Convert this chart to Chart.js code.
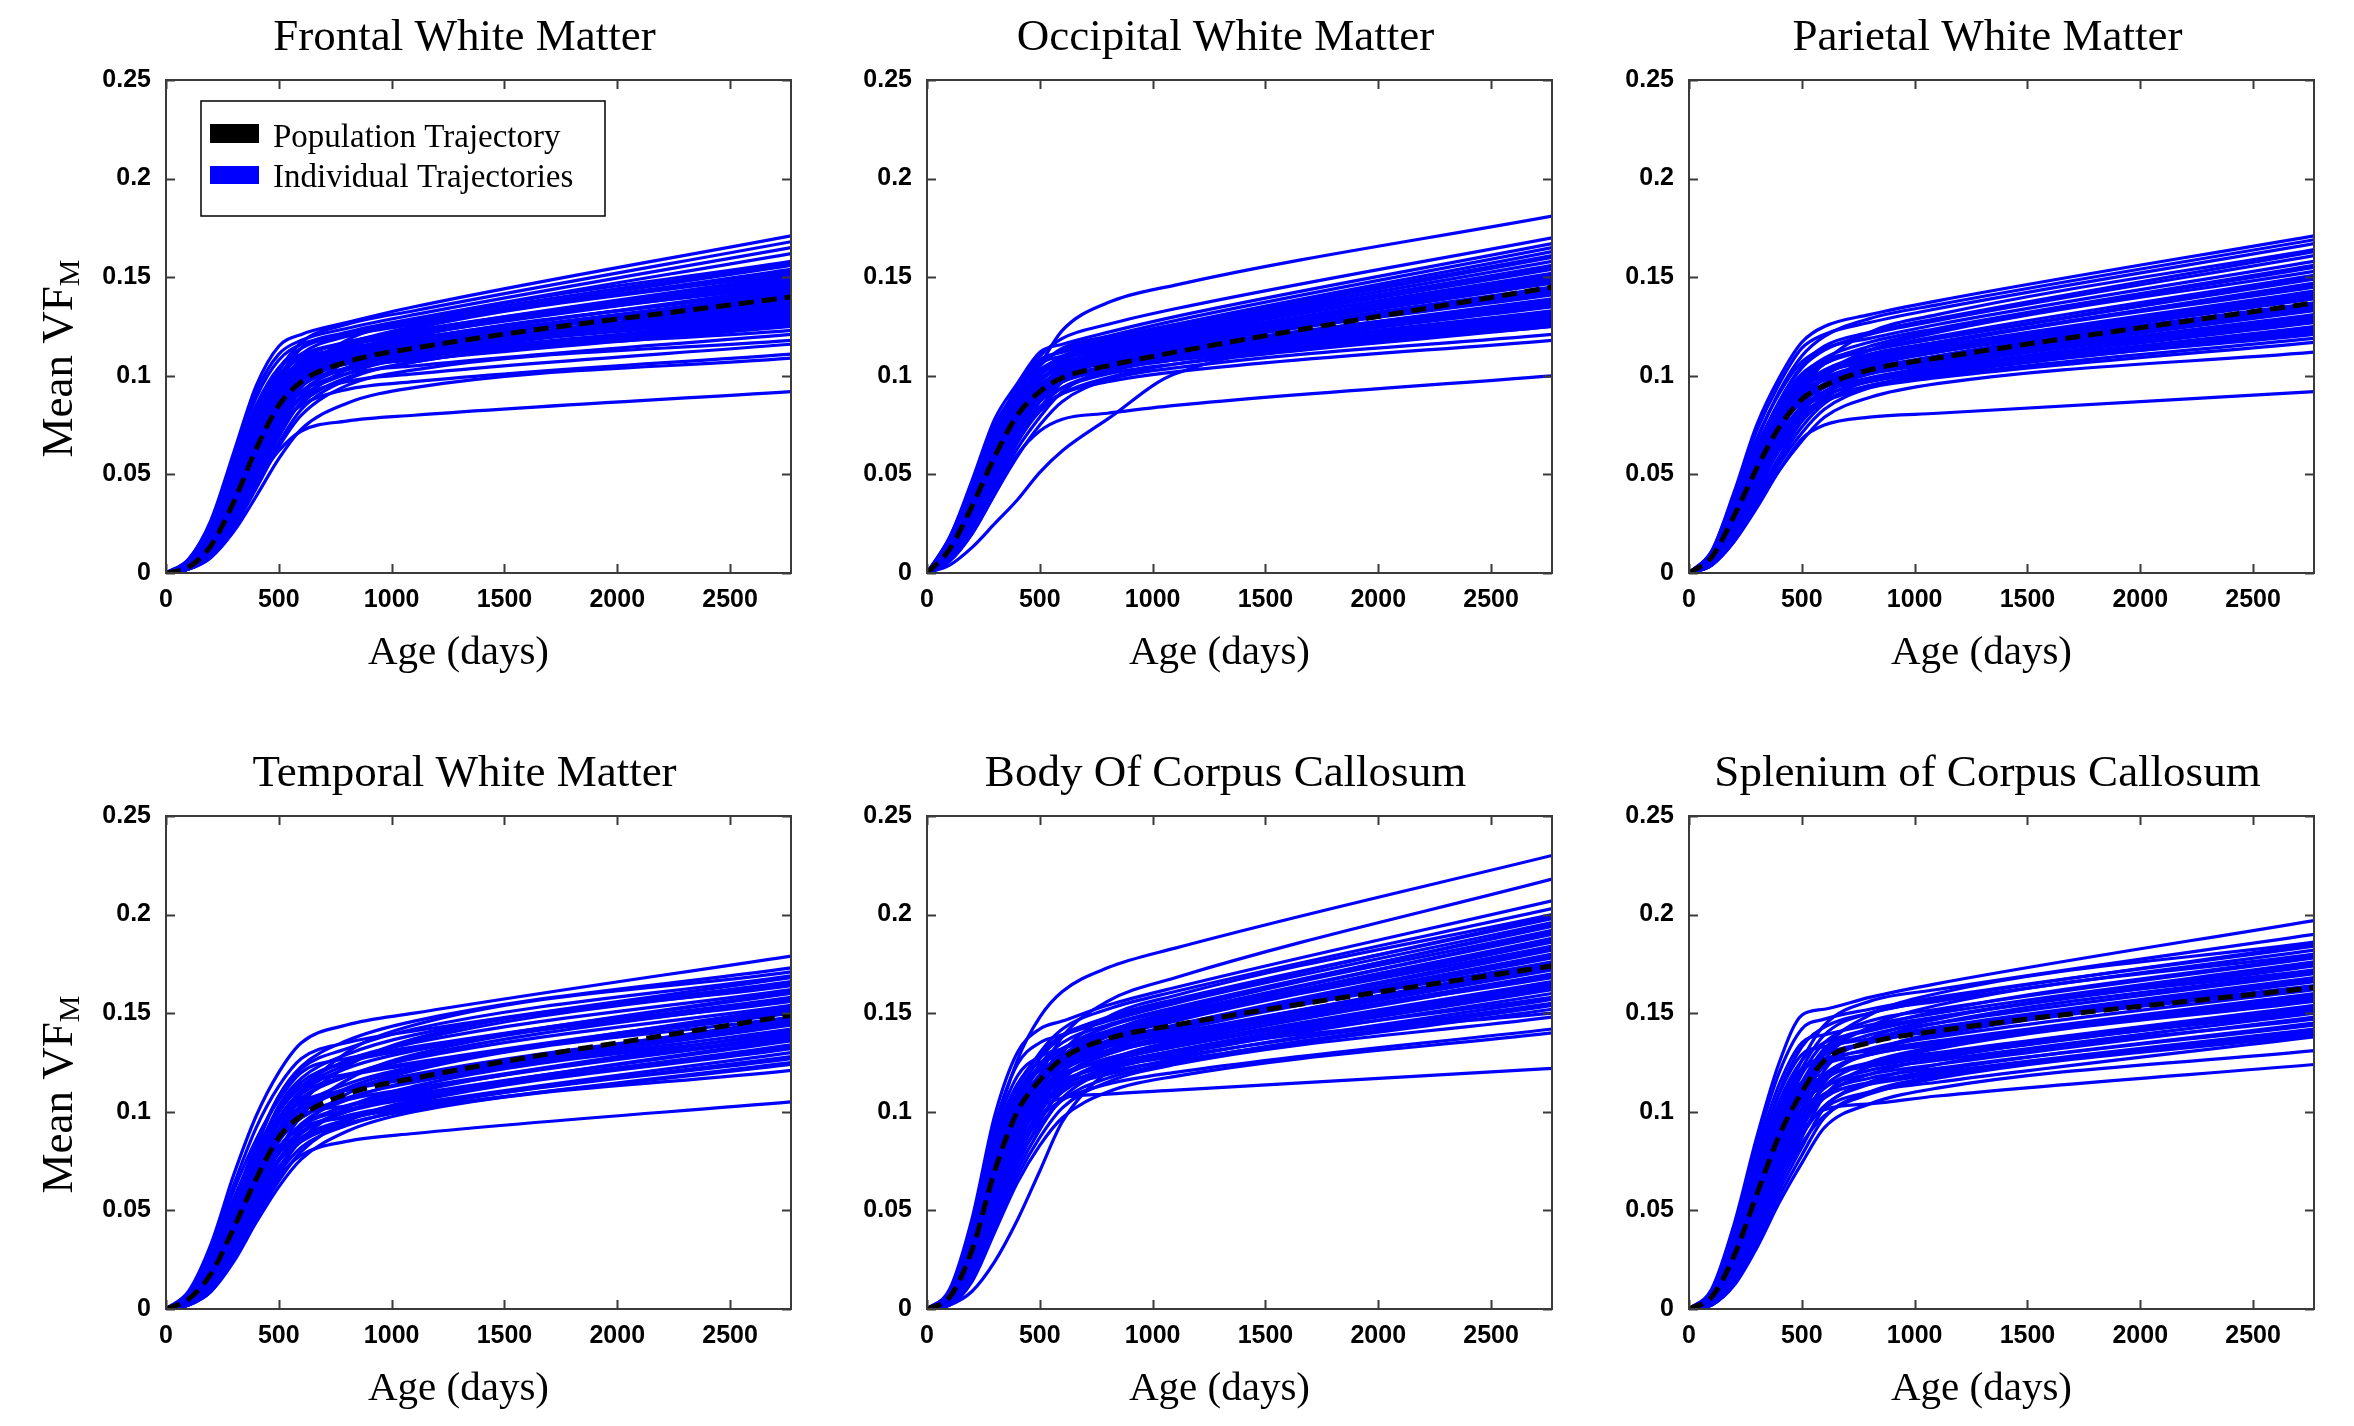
<!DOCTYPE html>
<html>
<head>
<meta charset="utf-8">
<script src="https://cdn.jsdelivr.net/npm/chart.js@4.4.0/dist/chart.umd.min.js"></script>
<style>
  body { margin: 0; background: #fff; width: 2354px; height: 1426px; position: relative; overflow: hidden; }
  canvas { position: absolute; }
</style>
</head>
<body>
<canvas id="frontal"></canvas>
<canvas id="occipital"></canvas>
<canvas id="parietal"></canvas>
<canvas id="temporal"></canvas>
<canvas id="body"></canvas>
<canvas id="splenium"></canvas>
<script>
// shared x samples (age in days) and tick labels
var ages = [0, 100, 200, 300, 400, 500, 600, 800, 1100, 2770];
var xTickValues = [0, 500, 1000, 1500, 2000, 2500];
var yTickValues = [0, 0.05, 0.1, 0.15, 0.2, 0.25];
var legendLabels = ['Population Trajectory', 'Individual Trajectories'];

// FRONTAL
var frontalPopulation = [0, .003, .014, .036, .063, .085, .097, .107, .114, .140];
var frontalIndividual = [
  [0, .007, .027, .061, .095, .115, .121, .127, .135, .171],
  [0, .004, .017, .044, .076, .102, .117, .126, .133, .168],
  [0, .007, .026, .059, .092, .111, .118, .124, .131, .165],
  [0, .004, .017, .043, .074, .099, .114, .122, .129, .162],
  [0, .003, .010, .028, .054, .079, .100, .118, .128, .158],
  [0, .005, .021, .050, .081, .104, .114, .121, .128, .157],
  [0, .006, .025, .057, .089, .108, .116, .121, .127, .156],
  [0, .004, .016, .042, .072, .097, .111, .120, .126, .154],
  [0, .003, .013, .035, .062, .088, .104, .116, .125, .153],
  [0, .002, .010, .027, .052, .077, .097, .114, .124, .152],
  [0, .005, .020, .048, .079, .100, .110, .117, .123, .151],
  [0, .004, .016, .041, .070, .095, .108, .117, .123, .150],
  [0, .006, .024, .055, .085, .104, .111, .116, .122, .149],
  [0, .003, .012, .032, .059, .085, .101, .112, .121, .148],
  [0, .004, .016, .040, .069, .093, .106, .115, .121, .147],
  [0, .002, .010, .026, .050, .074, .094, .110, .120, .146],
  [0, .005, .019, .046, .076, .097, .107, .114, .119, .145],
  [0, .004, .015, .039, .068, .092, .105, .113, .119, .144],
  [0, .003, .012, .031, .057, .082, .097, .109, .118, .143],
  [0, .006, .024, .053, .083, .100, .109, .113, .118, .142],
  [0, .004, .015, .039, .067, .090, .103, .112, .117, .141],
  [0, .004, .018, .044, .073, .094, .104, .111, .116, .140],
  [0, .002, .009, .026, .049, .072, .090, .107, .116, .139],
  [0, .003, .011, .030, .055, .080, .095, .107, .115, .138],
  [0, .003, .015, .038, .066, .089, .101, .110, .115, .137],
  [0, .004, .017, .042, .070, .091, .101, .108, .114, .136],
  [0, .006, .023, .051, .080, .097, .105, .109, .114, .135],
  [0, .003, .011, .029, .053, .077, .092, .104, .112, .134],
  [0, .003, .015, .037, .064, .087, .099, .108, .113, .133],
  [0, .004, .017, .041, .068, .089, .099, .106, .112, .132],
  [0, .002, .009, .025, .047, .069, .087, .103, .112, .131],
  [0, .003, .011, .028, .051, .074, .089, .101, .110, .130],
  [0, .003, .014, .037, .063, .085, .098, .107, .111, .129],
  [0, .004, .016, .039, .065, .086, .096, .103, .109, .128],
  [0, .006, .022, .050, .077, .094, .102, .106, .110, .127],
  [0, .003, .010, .027, .049, .071, .086, .099, .107, .126],
  [0, .003, .014, .036, .062, .083, .095, .104, .108, .125],
  [0, .002, .009, .024, .045, .066, .083, .098, .107, .123],
  [0, .003, .014, .035, .060, .081, .092, .101, .105, .121],
  [0, .002, .008, .023, .043, .064, .080, .095, .103, .118],
  [0, .003, .013, .033, .058, .078, .089, .097, .101, .116],
  [0, .003, .013, .032, .055, .075, .085, .093, .097, .111],
  [0, .002, .008, .021, .039, .058, .073, .086, .094, .109],
  [0, .004, .014, .028, .046, .062, .072, .077, .080, .092]
];

// OCCIPITAL
var occipitalPopulation = [0, .012, .034, .059, .080, .092, .099, .105, .112, .145];
var occipitalIndividual = [
  [0, .009, .028, .055, .083, .105, .123, .137, .146, .181],
  [0, .015, .040, .071, .095, .110, .119, .126, .134, .170],
  [0, .018, .047, .078, .096, .112, .116, .122, .130, .167],
  [0, .014, .038, .068, .091, .105, .114, .120, .128, .165],
  [0, .008, .024, .048, .072, .091, .106, .118, .126, .163],
  [0, .016, .042, .072, .092, .106, .113, .119, .126, .161],
  [0, .018, .045, .075, .093, .108, .112, .118, .125, .160],
  [0, .014, .037, .066, .088, .102, .110, .117, .124, .158],
  [0, .017, .044, .074, .091, .106, .110, .116, .123, .156],
  [0, .011, .031, .058, .081, .097, .107, .116, .123, .155],
  [0, .013, .037, .065, .087, .100, .109, .115, .122, .154],
  [0, .007, .023, .046, .069, .087, .102, .114, .121, .152],
  [0, .015, .040, .069, .088, .101, .108, .114, .121, .151],
  [0, .017, .043, .072, .089, .103, .109, .114, .120, .150],
  [0, .013, .036, .063, .084, .098, .106, .113, .119, .149],
  [0, .010, .029, .055, .077, .093, .103, .112, .119, .148],
  [0, .013, .035, .063, .084, .097, .105, .112, .118, .147],
  [0, .016, .042, .070, .087, .101, .106, .111, .117, .145],
  [0, .014, .039, .067, .085, .098, .105, .111, .117, .144],
  [0, .013, .035, .061, .082, .095, .103, .110, .116, .143],
  [0, .010, .028, .053, .074, .090, .100, .108, .115, .142],
  [0, .007, .022, .044, .066, .083, .097, .108, .115, .141],
  [0, .016, .041, .068, .084, .098, .104, .109, .114, .139],
  [0, .014, .038, .065, .082, .095, .102, .108, .114, .138],
  [0, .012, .034, .060, .080, .093, .101, .108, .113, .137],
  [0, .009, .027, .051, .071, .087, .097, .105, .112, .136],
  [0, .012, .034, .059, .080, .092, .100, .107, .112, .135],
  [0, .016, .040, .067, .082, .095, .102, .106, .111, .133],
  [0, .013, .036, .062, .080, .092, .099, .105, .111, .132],
  [0, .007, .021, .042, .063, .079, .092, .103, .110, .131],
  [0, .009, .026, .050, .069, .084, .094, .102, .109, .130],
  [0, .012, .033, .058, .077, .089, .097, .104, .109, .129],
  [0, .013, .035, .060, .078, .090, .097, .103, .108, .128],
  [0, .015, .039, .065, .080, .093, .100, .104, .108, .127],
  [0, .009, .025, .048, .067, .082, .091, .099, .106, .126],
  [0, .012, .032, .056, .075, .087, .094, .101, .106, .125],
  [0, .006, .020, .040, .059, .075, .087, .098, .104, .121],
  [0, .011, .031, .054, .072, .084, .091, .097, .102, .118],
  [0, .004, .013, .025, .037, .051, .062, .078, .101, .125],
  [0, .006, .020, .040, .060, .072, .078, .081, .085, .100]
];

// PARIETAL
var parietalPopulation = [0, .008, .029, .053, .074, .088, .095, .103, .109, .137];
var parietalIndividual = [
  [0, .011, .041, .075, .099, .117, .125, .131, .138, .171],
  [0, .010, .037, .067, .092, .110, .120, .129, .136, .169],
  [0, .011, .040, .072, .096, .114, .121, .127, .134, .167],
  [0, .005, .022, .046, .071, .092, .107, .122, .131, .164],
  [0, .009, .034, .063, .087, .105, .115, .122, .129, .163],
  [0, .009, .035, .063, .087, .104, .113, .121, .128, .161],
  [0, .010, .038, .068, .091, .107, .114, .119, .126, .158],
  [0, .009, .033, .061, .084, .100, .109, .117, .124, .156],
  [0, .007, .028, .053, .077, .095, .106, .115, .123, .155],
  [0, .005, .021, .043, .066, .085, .100, .113, .122, .153],
  [0, .008, .032, .059, .082, .097, .106, .113, .120, .151],
  [0, .009, .033, .060, .083, .099, .107, .113, .119, .150],
  [0, .010, .036, .064, .086, .101, .108, .113, .119, .149],
  [0, .008, .032, .057, .080, .095, .103, .111, .117, .147],
  [0, .006, .026, .050, .072, .089, .100, .110, .117, .146],
  [0, .005, .020, .041, .063, .081, .095, .108, .116, .145],
  [0, .008, .031, .056, .078, .093, .101, .109, .115, .143],
  [0, .008, .031, .057, .079, .094, .102, .108, .114, .142],
  [0, .009, .034, .061, .081, .096, .102, .107, .113, .141],
  [0, .006, .025, .047, .069, .085, .096, .105, .112, .140],
  [0, .008, .030, .055, .076, .091, .099, .106, .112, .139],
  [0, .004, .019, .039, .059, .077, .090, .102, .110, .137],
  [0, .008, .030, .055, .076, .090, .098, .104, .110, .136],
  [0, .008, .029, .053, .074, .088, .096, .103, .109, .135],
  [0, .006, .024, .045, .066, .082, .092, .101, .108, .134],
  [0, .009, .032, .058, .078, .092, .098, .103, .108, .133],
  [0, .007, .029, .052, .073, .087, .094, .102, .107, .131],
  [0, .008, .029, .053, .073, .087, .095, .101, .106, .130],
  [0, .004, .018, .037, .057, .074, .086, .098, .105, .129],
  [0, .005, .023, .044, .064, .079, .089, .098, .104, .128],
  [0, .007, .028, .051, .071, .084, .092, .099, .104, .127],
  [0, .008, .031, .056, .074, .088, .095, .098, .103, .125],
  [0, .007, .028, .051, .070, .084, .092, .098, .103, .124],
  [0, .007, .028, .050, .069, .083, .090, .097, .102, .123],
  [0, .005, .022, .042, .062, .077, .087, .095, .101, .122],
  [0, .004, .017, .035, .055, .071, .083, .094, .101, .121],
  [0, .007, .027, .049, .068, .081, .088, .095, .100, .119],
  [0, .007, .027, .049, .067, .080, .087, .094, .099, .117],
  [0, .004, .016, .034, .052, .067, .079, .089, .096, .112],
  [0, .004, .016, .033, .052, .068, .075, .079, .081, .092]
];

// TEMPORAL
var temporalPopulation = [0, .005, .018, .041, .066, .087, .098, .109, .117, .149];
var temporalIndividual = [
  [0, .009, .033, .068, .098, .120, .135, .144, .150, .179],
  [0, .006, .022, .051, .082, .108, .123, .136, .146, .173],
  [0, .003, .013, .035, .063, .089, .109, .130, .144, .171],
  [0, .006, .024, .054, .084, .108, .122, .132, .142, .169],
  [0, .008, .031, .063, .092, .113, .127, .135, .141, .168],
  [0, .006, .021, .049, .078, .103, .117, .129, .139, .166],
  [0, .004, .017, .042, .070, .096, .111, .124, .136, .165],
  [0, .003, .012, .033, .060, .085, .104, .123, .137, .164],
  [0, .005, .020, .047, .076, .100, .113, .126, .135, .162],
  [0, .006, .023, .051, .079, .101, .115, .125, .132, .161],
  [0, .008, .029, .060, .086, .106, .120, .127, .133, .160],
  [0, .005, .020, .046, .073, .097, .110, .122, .131, .158],
  [0, .004, .016, .040, .067, .091, .106, .118, .128, .157],
  [0, .003, .012, .031, .057, .080, .098, .116, .129, .156],
  [0, .005, .019, .044, .071, .094, .107, .118, .127, .154],
  [0, .006, .022, .048, .075, .096, .109, .118, .124, .153],
  [0, .008, .028, .056, .081, .100, .113, .119, .125, .152],
  [0, .004, .015, .038, .063, .086, .100, .112, .122, .151],
  [0, .005, .018, .043, .069, .091, .103, .114, .123, .150],
  [0, .002, .011, .029, .053, .075, .092, .109, .121, .148],
  [0, .005, .020, .045, .070, .090, .102, .111, .118, .147],
  [0, .005, .018, .042, .067, .088, .100, .111, .119, .146],
  [0, .003, .014, .035, .059, .080, .094, .106, .116, .145],
  [0, .007, .026, .053, .076, .094, .105, .111, .117, .144],
  [0, .005, .017, .040, .064, .085, .097, .107, .115, .142],
  [0, .005, .019, .043, .067, .086, .097, .106, .112, .141],
  [0, .002, .010, .027, .050, .070, .086, .102, .113, .140],
  [0, .003, .013, .033, .056, .076, .089, .100, .110, .139],
  [0, .004, .017, .039, .062, .082, .093, .103, .111, .138],
  [0, .005, .018, .041, .064, .082, .093, .101, .108, .137],
  [0, .007, .024, .049, .071, .087, .098, .103, .109, .136],
  [0, .004, .016, .037, .060, .079, .090, .100, .107, .134],
  [0, .003, .012, .031, .053, .072, .085, .096, .106, .133],
  [0, .002, .009, .025, .046, .065, .080, .095, .105, .132],
  [0, .004, .017, .039, .061, .079, .090, .098, .104, .130],
  [0, .004, .015, .036, .058, .076, .087, .096, .103, .128],
  [0, .003, .012, .030, .051, .069, .082, .093, .102, .127],
  [0, .006, .022, .046, .066, .082, .092, .097, .102, .125],
  [0, .004, .015, .035, .057, .075, .085, .094, .101, .124],
  [0, .002, .009, .024, .044, .062, .076, .090, .100, .121],
  [0, .003, .011, .027, .048, .067, .078, .085, .089, .105]
];

// BODY OF CORPUS CALLOSUM
var bodyPopulation = [0, .006, .030, .070, .100, .116, .127, .137, .144, .174];
var bodyIndividual = [
  [0, .007, .038, .090, .126, .148, .161, .173, .183, .230],
  [0, .003, .020, .055, .091, .118, .138, .156, .168, .218],
  [0, .010, .046, .098, .130, .142, .146, .154, .163, .207],
  [0, .006, .034, .079, .111, .130, .142, .152, .161, .203],
  [0, .003, .019, .052, .086, .111, .130, .148, .159, .200],
  [0, .007, .036, .082, .113, .129, .139, .147, .156, .199],
  [0, .006, .033, .077, .108, .127, .138, .148, .157, .198],
  [0, .009, .043, .093, .124, .135, .139, .146, .155, .196],
  [0, .004, .025, .063, .096, .117, .131, .143, .152, .195],
  [0, .006, .032, .075, .106, .124, .135, .144, .153, .194],
  [0, .003, .018, .050, .082, .106, .124, .140, .151, .192],
  [0, .007, .035, .079, .108, .123, .132, .140, .149, .191],
  [0, .006, .032, .074, .104, .122, .132, .141, .150, .190],
  [0, .009, .041, .089, .118, .128, .132, .139, .148, .188],
  [0, .004, .024, .060, .091, .112, .126, .138, .147, .187],
  [0, .006, .031, .072, .101, .119, .129, .139, .147, .186],
  [0, .003, .018, .048, .079, .102, .120, .136, .146, .184],
  [0, .007, .034, .076, .104, .118, .127, .135, .144, .183],
  [0, .006, .030, .071, .099, .117, .127, .136, .144, .182],
  [0, .009, .040, .086, .114, .125, .128, .135, .143, .180],
  [0, .004, .023, .058, .087, .107, .121, .133, .142, .179],
  [0, .006, .030, .070, .098, .115, .125, .134, .142, .178],
  [0, .003, .017, .047, .076, .099, .116, .131, .141, .176],
  [0, .006, .033, .074, .101, .115, .123, .131, .139, .175],
  [0, .006, .029, .069, .097, .113, .123, .133, .140, .174],
  [0, .004, .022, .056, .084, .104, .118, .129, .138, .173],
  [0, .008, .039, .083, .110, .121, .125, .131, .138, .172],
  [0, .005, .029, .067, .095, .111, .121, .130, .137, .170],
  [0, .006, .032, .071, .098, .111, .119, .127, .135, .169],
  [0, .003, .016, .045, .073, .095, .112, .126, .136, .168],
  [0, .005, .028, .066, .092, .109, .118, .127, .134, .166],
  [0, .004, .021, .054, .081, .100, .114, .125, .133, .165],
  [0, .008, .037, .080, .106, .117, .120, .126, .133, .164],
  [0, .006, .031, .069, .094, .108, .116, .123, .131, .163],
  [0, .005, .028, .064, .090, .106, .115, .124, .131, .162],
  [0, .003, .020, .052, .078, .097, .110, .121, .129, .160],
  [0, .003, .016, .043, .070, .091, .107, .121, .130, .158],
  [0, .005, .029, .066, .090, .104, .112, .119, .127, .157],
  [0, .005, .027, .063, .088, .104, .113, .122, .128, .155],
  [0, .003, .019, .050, .075, .093, .106, .117, .125, .154],
  [0, .005, .026, .062, .087, .102, .111, .120, .126, .152],
  [0, .002, .015, .041, .067, .087, .102, .115, .124, .148],
  [0, .005, .025, .059, .083, .097, .106, .114, .120, .142],
  [0, .002, .014, .039, .064, .083, .097, .110, .118, .140],
  [0, .002, .009, .024, .045, .070, .095, .120, .130, .150],
  [0, .005, .025, .060, .088, .102, .107, .109, .111, .122]
];

// SPLENIUM OF CORPUS CALLOSUM
var spleniumPopulation = [0, .006, .027, .058, .088, .110, .126, .135, .141, .163];
var spleniumIndividual = [
  [0, .010, .043, .087, .125, .149, .152, .158, .165, .197],
  [0, .006, .031, .066, .100, .126, .144, .156, .162, .190],
  [0, .003, .018, .045, .077, .106, .131, .149, .160, .186],
  [0, .008, .036, .075, .110, .133, .143, .150, .157, .185],
  [0, .009, .041, .084, .120, .142, .147, .152, .158, .184],
  [0, .006, .030, .064, .097, .122, .139, .150, .156, .182],
  [0, .003, .017, .043, .074, .102, .126, .143, .154, .180],
  [0, .005, .024, .054, .085, .112, .130, .142, .151, .179],
  [0, .006, .029, .062, .094, .119, .135, .146, .152, .178],
  [0, .009, .039, .080, .114, .135, .139, .144, .150, .176],
  [0, .008, .034, .071, .105, .126, .135, .141, .148, .175],
  [0, .006, .028, .061, .092, .115, .132, .142, .148, .174],
  [0, .003, .016, .041, .071, .097, .121, .137, .147, .172],
  [0, .004, .022, .051, .081, .106, .124, .136, .145, .171],
  [0, .006, .028, .059, .090, .113, .129, .139, .145, .170],
  [0, .009, .037, .076, .109, .129, .133, .137, .143, .168],
  [0, .007, .032, .068, .100, .120, .129, .135, .142, .167],
  [0, .006, .027, .058, .087, .110, .125, .135, .141, .166],
  [0, .003, .015, .039, .067, .092, .115, .130, .140, .164],
  [0, .004, .021, .049, .077, .101, .118, .130, .139, .163],
  [0, .006, .026, .057, .086, .108, .123, .132, .138, .162],
  [0, .008, .035, .072, .103, .122, .127, .131, .136, .160],
  [0, .007, .031, .065, .096, .115, .124, .129, .135, .159],
  [0, .005, .025, .055, .083, .105, .119, .129, .134, .158],
  [0, .004, .020, .047, .074, .097, .113, .125, .133, .157],
  [0, .003, .015, .037, .063, .087, .108, .123, .132, .156],
  [0, .005, .025, .053, .081, .101, .116, .125, .130, .154],
  [0, .007, .030, .062, .092, .110, .118, .124, .129, .153],
  [0, .008, .033, .068, .097, .115, .119, .123, .128, .152],
  [0, .004, .019, .044, .070, .092, .108, .119, .127, .151],
  [0, .005, .024, .052, .078, .098, .112, .121, .126, .150],
  [0, .006, .028, .059, .088, .105, .113, .119, .124, .148],
  [0, .002, .014, .035, .060, .082, .102, .115, .124, .147],
  [0, .005, .023, .050, .076, .095, .109, .117, .122, .145],
  [0, .004, .018, .042, .067, .088, .103, .114, .121, .144],
  [0, .005, .023, .049, .074, .094, .107, .115, .120, .142],
  [0, .006, .027, .056, .084, .101, .109, .114, .119, .141],
  [0, .002, .013, .033, .057, .078, .097, .110, .118, .140],
  [0, .004, .017, .040, .064, .084, .098, .109, .117, .139],
  [0, .005, .022, .047, .071, .090, .102, .110, .115, .138],
  [0, .002, .012, .031, .054, .074, .092, .104, .112, .131],
  [0, .004, .020, .045, .070, .090, .101, .104, .108, .124]
];

var panels = [
  { id: 'frontal',   title: 'Frontal White Matter',        population: frontalPopulation,   individual: frontalIndividual,   col: 0, row: 0, yLabel: true,  legend: true },
  { id: 'occipital', title: 'Occipital White Matter',      population: occipitalPopulation, individual: occipitalIndividual, col: 1, row: 0 },
  { id: 'parietal',  title: 'Parietal White Matter',       population: parietalPopulation,  individual: parietalIndividual,  col: 2, row: 0 },
  { id: 'temporal',  title: 'Temporal White Matter',       population: temporalPopulation,  individual: temporalIndividual,  col: 0, row: 1, yLabel: true },
  { id: 'body',      title: 'Body Of Corpus Callosum',     population: bodyPopulation,      individual: bodyIndividual,      col: 1, row: 1 },
  { id: 'splenium',  title: 'Splenium of Corpus Callosum', population: spleniumPopulation,  individual: spleniumIndividual,  col: 2, row: 1 }
];

// layout in page pixels
var plotLefts = [166, 927, 1689];
var plotTops = [80, 816];
var plotW = 625, plotH = 493;
var padLeft = 166, padTop = 80, padRight = 20, padBottom = 110;

var BLUE = 'rgb(0, 0, 255)';
var serif = '"Liberation Serif", "Times New Roman", serif';

function toPoints(values) {
  return ages.map(function (a, i) { return { x: a, y: values[i] }; });
}

function buildDatasets(p) {
  var sets = [{
    label: legendLabels[0],
    data: toPoints(p.population),
    borderColor: '#000',
    borderWidth: 5,
    borderDash: [15, 8],
    pointRadius: 0,
    fill: false,
    cubicInterpolationMode: 'monotone'
  }];
  p.individual.forEach(function (traj) {
    sets.push({
      label: legendLabels[1],
      data: toPoints(traj),
      borderColor: BLUE,
      borderWidth: 3.2,
      pointRadius: 0,
      fill: false,
      cubicInterpolationMode: 'monotone'
    });
  });
  return sets;
}

var framePlugin = {
  id: 'matlabFrame',
  afterDraw: function (chart) {
    var p = chart.options.plugins.matlabFrame;
    var ctx = chart.ctx;
    var a = chart.chartArea;
    var xs = chart.scales.x, ys = chart.scales.y;
    var cx = (a.left + a.right) / 2, cy = (a.top + a.bottom) / 2;
    ctx.save();

    // box and inward ticks on all sides
    ctx.strokeStyle = '#3a3a3a';
    ctx.lineWidth = 2;
    ctx.strokeRect(a.left, a.top, a.right - a.left, a.bottom - a.top);
    ctx.beginPath();
    xTickValues.forEach(function (v) {
      var px = Math.round(xs.getPixelForValue(v)) + 0.5;
      ctx.moveTo(px, a.bottom); ctx.lineTo(px, a.bottom - 9);
      ctx.moveTo(px, a.top); ctx.lineTo(px, a.top + 9);
    });
    yTickValues.forEach(function (v) {
      var py = Math.round(ys.getPixelForValue(v)) + 0.5;
      ctx.moveTo(a.left, py); ctx.lineTo(a.left + 9, py);
      ctx.moveTo(a.right, py); ctx.lineTo(a.right - 9, py);
    });
    ctx.stroke();

    ctx.fillStyle = '#000';
    ctx.textAlign = 'center';
    ctx.textBaseline = 'middle';

    // title
    ctx.font = '45px ' + serif;
    ctx.fillText(p.title, cx - 14, a.top - 42);

    // x label
    ctx.font = '41px ' + serif;
    ctx.fillText('Age (days)', cx - 20, a.bottom + 80);

    // y label with subscript
    if (p.yLabel) {
      ctx.save();
      ctx.translate(a.left - 106, cy + 32);
      ctx.rotate(-Math.PI / 2);
      ctx.font = '45px ' + serif;
      var main = 'Mean VF';
      var w1 = ctx.measureText(main).width;
      ctx.font = '30px ' + serif;
      var w2 = ctx.measureText('M').width;
      var start = -(w1 + w2) / 2;
      ctx.textAlign = 'left';
      ctx.font = '45px ' + serif;
      ctx.fillText(main, start, 0);
      ctx.font = '30px ' + serif;
      ctx.fillText('M', start + w1, 11);
      ctx.restore();
    }

    // legend
    if (p.legend) {
      var lx = a.left + 35, ly = a.top + 21;
      ctx.fillStyle = '#fff';
      ctx.fillRect(lx, ly, 404, 115);
      ctx.strokeStyle = '#000';
      ctx.lineWidth = 1.5;
      ctx.strokeRect(lx, ly, 404, 115);
      ctx.fillStyle = '#000';
      ctx.fillRect(lx + 9, ly + 23, 49, 19);
      ctx.fillStyle = BLUE;
      ctx.fillRect(lx + 9, ly + 65, 49, 18);
      ctx.fillStyle = '#000';
      ctx.textAlign = 'left';
      ctx.font = '33px ' + serif;
      ctx.fillText(legendLabels[0], lx + 72, ly + 37);
      ctx.fillText(legendLabels[1], lx + 72, ly + 77);
    }
    ctx.restore();
  }
};

panels.forEach(function (p) {
  var canvas = document.getElementById(p.id);
  var w = padLeft + plotW + padRight, h = padTop + plotH + padBottom;
  canvas.width = w;
  canvas.height = h;
  canvas.style.width = w + 'px';
  canvas.style.height = h + 'px';
  canvas.style.left = (plotLefts[p.col] - padLeft) + 'px';
  canvas.style.top = (plotTops[p.row] - padTop) + 'px';

  new Chart(canvas.getContext('2d'), {
    type: 'line',
    data: { datasets: buildDatasets(p) },
    options: {
      responsive: false,
      devicePixelRatio: 1,
      animation: false,
      events: [],
      layout: { padding: { top: padTop, right: padRight, left: 0, bottom: 0 } },
      scales: {
        x: {
          type: 'linear',
          min: 0,
          max: 2770,
          grid: { display: false, drawTicks: false },
          border: { display: false },
          afterBuildTicks: function (s) { s.ticks = xTickValues.map(function (v) { return { value: v }; }); },
          afterFit: function (s) { s.height = padBottom; },
          ticks: {
            padding: 12,
            color: '#000',
            maxRotation: 0,
            autoSkip: false,
            font: { family: '"Liberation Sans", Arial, sans-serif', size: 25, weight: 'bold' },
            callback: function (v) { return String(v); }
          }
        },
        y: {
          type: 'linear',
          min: 0,
          max: 0.25,
          grid: { display: false, drawTicks: false },
          border: { display: false },
          afterBuildTicks: function (s) { s.ticks = yTickValues.map(function (v) { return { value: v }; }); },
          afterFit: function (s) { s.width = padLeft; },
          ticks: {
            padding: 15,
            color: '#000',
            font: { family: '"Liberation Sans", Arial, sans-serif', size: 25, weight: 'bold' },
            callback: function (v) { return String(v); }
          }
        }
      },
      plugins: {
        legend: { display: false },
        tooltip: { enabled: false },
        matlabFrame: { title: p.title, yLabel: !!p.yLabel, legend: !!p.legend }
      }
    },
    plugins: [framePlugin]
  });
});
</script>
</body>
</html>
